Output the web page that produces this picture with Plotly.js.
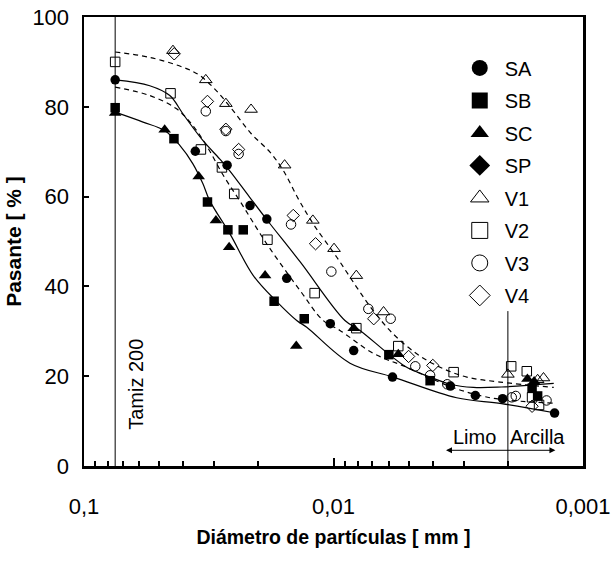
<!DOCTYPE html>
<html><head><meta charset="utf-8">
<script src="https://cdn.plot.ly/plotly-3.0.1.min.js"></script>
<style>html,body{margin:0;padding:0;background:#fff}#chart{width:615px;height:563px}</style>
</head><body><div id="chart"></div>
<script>
// ---- data (particle diameter in mm, percent passing) ----
const SA_x=[0.075,0.0358,0.0267,0.0216,0.0185,0.0154,0.0103,0.0083,0.0058,0.0034,0.0027,0.0021,0.0013];
const SA_y=[86,70.1,67,58,55,41.8,31.7,25.7,19.8,17.8,15.7,15,11.8];
const SB_x=[0.075,0.0436,0.032,0.0265,0.023,0.0173,0.0131,0.006,0.0041,0.0016,0.00152];
const SB_y=[79.8,72.9,58.8,52.6,52.6,36.7,32.8,24.8,19,17.3,15.6];
const SC_x=[0.075,0.0475,0.0347,0.0296,0.0262,0.0188,0.0141,0.0083,0.0055,0.00167,0.00157];
const SC_y=[78.6,74.9,64.5,54.7,48.7,42.4,26.7,30.7,24.9,19.4,18.8];
const SP_x=[];
const SP_y=[];
const V1_x=[0.044,0.0325,0.027,0.0214,0.0157,0.0121,0.00995,0.0081,0.0063,0.002,0.00152,0.00144];
const V1_y=[92.5,86,80.7,79.4,67,54.7,48.4,42.4,34.3,20.4,19.2,19.6];
const V2_x=[0.075,0.045,0.034,0.028,0.025,0.0184,0.0119,0.0081,0.0055,0.0033,0.00194,0.00168,0.0016,0.0015];
const V2_y=[90,83,70.5,66.5,60.6,50.4,38.5,30.7,26.7,20.9,22.2,21.1,15.3,13.6];
const V3_x=[0.0325,0.027,0.024,0.0148,0.0102,0.00725,0.0059,0.0047,0.0041,0.0035,0.00193,0.00186,0.0014];
const V3_y=[79,74.6,69.5,53.8,43.3,35,32.8,22.2,20.2,18.2,15.3,15.6,14.6];
const V4_x=[0.0435,0.032,0.027,0.024,0.0145,0.0118,0.0069,0.005,0.004,0.0016];
const V4_y=[91.8,81.2,75,70.5,55.8,49.5,32.8,24.4,22.4,13.3];

// fitted curves
const solidUpper_x=[0.075,0.0545,0.0453,0.0401,0.0334,0.0286,0.0261,0.0217,0.01853,0.01362,0.009,0.00783,0.00603,0.00509,0.0041,0.00341,0.00275,0.00212,0.00131];
const solidUpper_y=[86,84.7,82.5,78.4,72.5,68.4,65.8,59.9,54.9,45.5,32.4,30.2,25,22,19.8,18.2,17.5,17.6,18.4];
const solidLower_x=[0.075,0.058,0.0475,0.0413,0.0366,0.0334,0.03135,0.026,0.02096,0.01688,0.01404,0.0128,0.00859,0.00576,0.00321,0.00212,0.00129];
const solidLower_y=[78.8,76.6,74.7,71.4,67.3,62.9,59.1,51.7,42.4,36.6,32.4,30.9,22.9,19.8,15.2,13.9,11.8];
const dashUpper_x=[0.075,0.0545,0.0401,0.0344,0.0295,0.0253,0.02136,0.01797,0.01589,0.01384,0.01205,0.0097,0.00807,0.00693,0.00576,0.00464,0.00374,0.00292,0.00215,0.00131];
const dashUpper_y=[92.2,91,88.8,87,83.6,79.2,74,69.9,65.8,59.5,53.9,46.5,39.8,34.6,29.4,25,22,19.8,18.7,17.5];
const dashLower_x=[0.075,0.0545,0.0427,0.0366,0.0320,0.0277,0.02377,0.01853,0.01362,0.011,0.00942,0.00693,0.00509,0.00341,0.00259,0.00212,0.00131];
const dashLower_y=[84.4,82.5,79.6,75.8,71,64.8,59.1,49.5,39.1,32.4,30.2,25.1,22,17.7,15.7,14.8,14];

// reference lines
const tamiz_x=[0.075,0.075], tamiz_y=[0,100];
const limite_x=[0.002,0.002], limite_y=[0,34.5];

const xTickVals=[0.1,0.01,0.001];
const xTickText=['0,1','0,01','0,001'];
const xMinorVals=[0.09,0.08,0.07,0.06,0.05,0.04,0.03,0.02,0.009,0.008,0.007,0.006,0.005,0.004,0.003,0.002];
const yTickVals=[0,20,40,60,80,100];

const series=[
 {name:'SA',x:SA_x,y:SA_y,symbol:'circle'},
 {name:'SB',x:SB_x,y:SB_y,symbol:'square'},
 {name:'SC',x:SC_x,y:SC_y,symbol:'triangle-up'},
 {name:'SP',x:SP_x,y:SP_y,symbol:'diamond'},
 {name:'V1',x:V1_x,y:V1_y,symbol:'triangle-up-open'},
 {name:'V2',x:V2_x,y:V2_y,symbol:'square-open'},
 {name:'V3',x:V3_x,y:V3_y,symbol:'circle-open'},
 {name:'V4',x:V4_x,y:V4_y,symbol:'diamond-open'}
];

const traces=[];
function curve(x,y,dash){
  traces.push({x:x,y:y,mode:'lines',line:{color:'#000',width:1.2,dash:dash,shape:'spline',smoothing:1},showlegend:false,hoverinfo:'skip'});
}
curve(solidUpper_x,solidUpper_y,'solid');
curve(solidLower_x,solidLower_y,'solid');
curve(dashUpper_x,dashUpper_y,'5px,4px');
curve(dashLower_x,dashLower_y,'5px,4px');
traces.push({x:tamiz_x,y:tamiz_y,mode:'lines',line:{color:'#000',width:1},showlegend:false,hoverinfo:'skip'});
traces.push({x:limite_x,y:limite_y,mode:'lines',line:{color:'#000',width:1},showlegend:false,hoverinfo:'skip'});

series.forEach((s,i)=>{
  const open=s.symbol.indexOf('open')>=0;
  const tri=s.symbol.indexOf('triangle')>=0;
  traces.push({x:s.x,y:s.y,mode:'markers',name:s.name,legendgroup:s.name,showlegend:false,
    marker:{symbol:s.symbol,size:tri?11:9.5,color:'#000',line:{color:'#000',width:open?1:0}}});
  traces.push({x:[null],y:[null],mode:'markers',name:s.name,legendgroup:s.name,showlegend:true,
    marker:{symbol:s.symbol,size:16,color:'#000',line:{color:'#000',width:open?1:0}}});
});

const FONT='Liberation Sans, Arial, sans-serif';
const layout={
  width:615,height:563,
  margin:{l:84,r:32,t:17,b:97},
  paper_bgcolor:'#fff',plot_bgcolor:'#fff',
  separators:',.',
  font:{family:FONT,color:'#000',size:20},
  showlegend:true,
  legend:{x:0.743,y:0.93,xanchor:'left',yanchor:'top',bgcolor:'rgba(0,0,0,0)',
    font:{family:FONT,size:20,color:'#000'},tracegroupgap:3.5,itemwidth:40},
  xaxis:{type:'log',range:[-1,-3],autorange:false,
    tickmode:'array',tickvals:xTickVals,ticktext:xTickText,
    ticks:'inside',ticklen:8,tickwidth:2,tickcolor:'#000',
    minor:{tickmode:'array',tickvals:xMinorVals,ticks:'inside',ticklen:5,tickwidth:2,tickcolor:'#000',showgrid:false},
    showline:true,linewidth:2.5,linecolor:'#000',mirror:true,showgrid:false,zeroline:false,
    tickfont:{family:FONT,size:22,color:'#000'},ticklabelstandoff:19,
    title:{text:'<b>Diámetro de partículas [ mm ]</b>',font:{family:FONT,size:19.5,color:'#000'},standoff:13}},
  yaxis:{range:[0,100],autorange:false,tickmode:'array',tickvals:yTickVals,
    ticks:'inside',ticklen:5,tickwidth:2,tickcolor:'#000',
    showline:true,linewidth:2.5,linecolor:'#000',mirror:true,showgrid:false,zeroline:false,
    tickfont:{family:FONT,size:22,color:'#000'},ticklabelstandoff:8,
    title:{text:'<b>Pasante [ % ]</b>',font:{family:FONT,size:21,color:'#000'},standoff:5}},
  annotations:[
    {x:Math.log10(0.0619),y:18.3,xref:'x',yref:'y',text:'Tamiz 200',textangle:-90,showarrow:false,
     xanchor:'center',yanchor:'middle',font:{family:FONT,size:20,color:'#000'}},
    {x:Math.log10(0.00271),y:6.4,xref:'x',yref:'y',text:'Limo',showarrow:false,xanchor:'center',yanchor:'middle',
     font:{family:FONT,size:20,color:'#000'}},
    {x:Math.log10(0.00152),y:6.4,xref:'x',yref:'y',text:'Arcilla',showarrow:false,xanchor:'center',yanchor:'middle',
     font:{family:FONT,size:20,color:'#000'}},
    {x:Math.log10(0.00129),y:3.5,ax:Math.log10(0.00359),ay:3.5,xref:'x',yref:'y',axref:'x',ayref:'y',
     text:'',showarrow:true,arrowside:'end+start',arrowhead:2,arrowsize:1.2,arrowwidth:1,arrowcolor:'#000',standoff:0,startstandoff:0}
  ]
};
Plotly.newPlot('chart',traces,layout,{displayModeBar:false,staticPlot:true});
</script>
</body></html>
